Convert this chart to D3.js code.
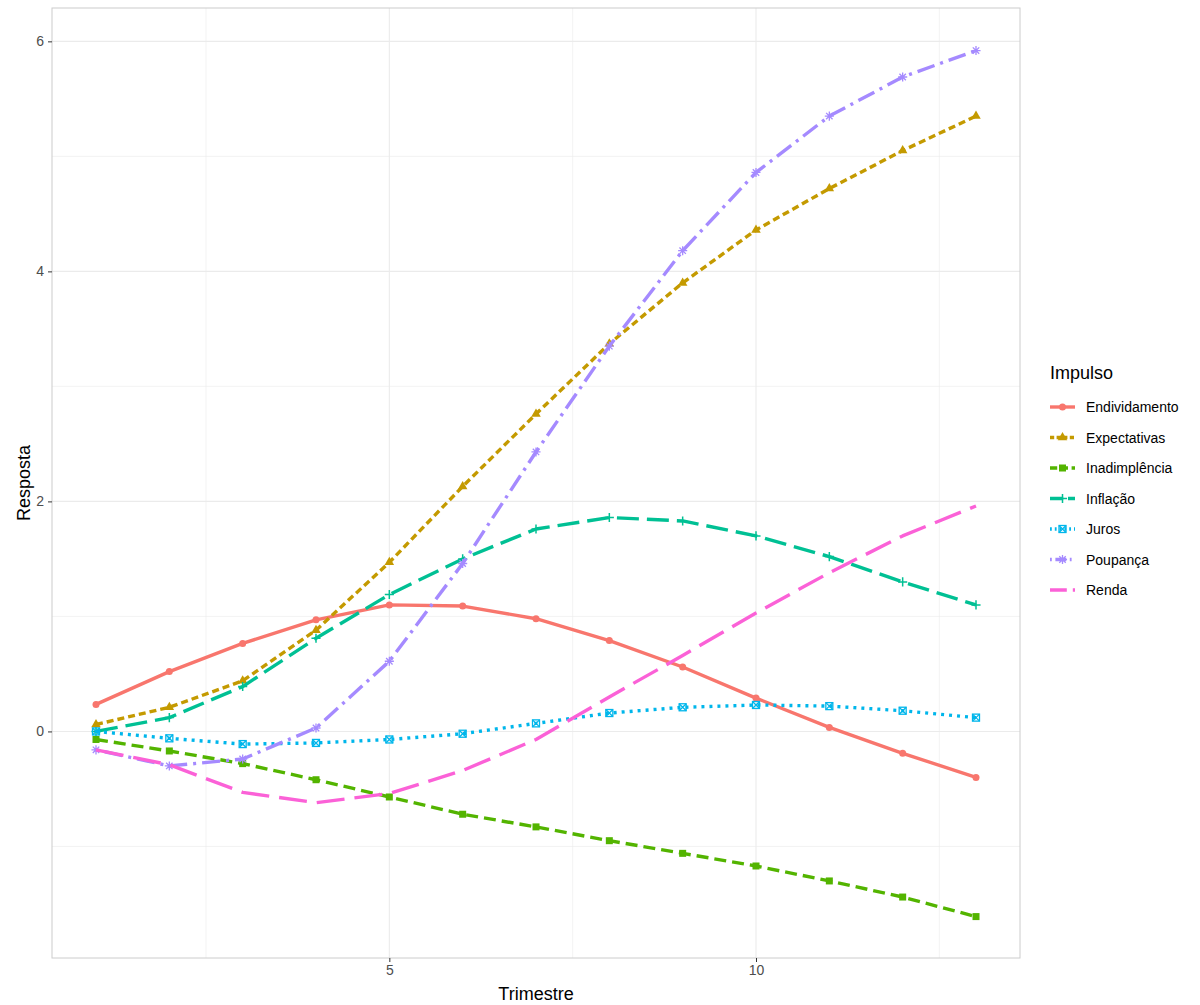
<!DOCTYPE html>
<html><head><meta charset="utf-8">
<script src="https://cdn.jsdelivr.net/npm/d3@7"></script>
<style>body{margin:0;background:#fff;font-family:"Liberation Sans",Arial,sans-serif}</style>
</head><body><svg id="c" width="1200" height="1005"></svg>
<script>
const trimestres = [1,2,3,4,5,6,7,8,9,10,11,12,13];
const endividamento = [0.235,0.52,0.765,0.97,1.10,1.09,0.98,0.79,0.56,0.29,0.035,-0.19,-0.40];
const expectativas = [0.06,0.21,0.44,0.88,1.47,2.13,2.76,3.37,3.90,4.36,4.72,5.05,5.35];
const inadimplencia = [-0.07,-0.17,-0.28,-0.42,-0.57,-0.72,-0.83,-0.95,-1.06,-1.17,-1.30,-1.44,-1.61];
const inflacao = [0.0,0.12,0.39,0.81,1.19,1.50,1.76,1.86,1.83,1.70,1.52,1.30,1.10];
const juros = [0.0,-0.06,-0.11,-0.10,-0.07,-0.02,0.07,0.16,0.21,0.23,0.22,0.18,0.12];
const poupanca = [-0.16,-0.30,-0.24,0.03,0.61,1.46,2.43,3.35,4.18,4.86,5.35,5.69,5.92];
const renda = [-0.16,-0.29,-0.53,-0.62,-0.54,-0.34,-0.07,0.30,0.66,1.03,1.38,1.70,1.96];
const yTicks = [0,2,4,6];
const xTicks = [5,10];

const series = [
  {name:"Endividamento", v:endividamento, color:"#F8766D", dash:null, shape:"circle"},
  {name:"Expectativas", v:expectativas, color:"#C49A00", dash:"7,4", shape:"triangle"},
  {name:"Inadimplência", v:inadimplencia, color:"#53B400", dash:"12,6", shape:"square"},
  {name:"Inflação", v:inflacao, color:"#00C094", dash:"22,8", shape:"plus"},
  {name:"Juros", v:juros, color:"#00B6EB", dash:"3,5", shape:"boxx"},
  {name:"Poupança", v:poupanca, color:"#A58AFF", dash:"3,6,18,6", shape:"asterisk"},
  {name:"Renda", v:renda, color:"#FB61D7", dash:"28,10", shape:null}
];

const svg = d3.select("#c");
const L = 52, R = 1020, T = 8, B = 958;
const x = d3.scaleLinear().domain([0.4,13.6]).range([L,R]);
const y = d3.scaleLinear().domain([-1.97,6.29]).range([B,T]);

const g = svg.append("g");
[-1,1,3,5].forEach(v=>g.append("line").attr("x1",L).attr("x2",R).attr("y1",y(v)).attr("y2",y(v)).attr("stroke","#ebebeb").attr("stroke-width",0.6));
[2.5,7.5,12.5].forEach(v=>g.append("line").attr("y1",T).attr("y2",B).attr("x1",x(v)).attr("x2",x(v)).attr("stroke","#ebebeb").attr("stroke-width",0.6));
yTicks.forEach(v=>g.append("line").attr("x1",L).attr("x2",R).attr("y1",y(v)).attr("y2",y(v)).attr("stroke","#ebebeb").attr("stroke-width",1.1));
xTicks.forEach(v=>g.append("line").attr("y1",T).attr("y2",B).attr("x1",x(v)).attr("x2",x(v)).attr("stroke","#ebebeb").attr("stroke-width",1.1));
g.append("rect").attr("x",L).attr("y",T).attr("width",R-L).attr("height",B-T).attr("fill","none").attr("stroke","#cccccc");

const ya = svg.append("g").attr("transform",`translate(${L},0)`).call(d3.axisLeft(y).tickValues(yTicks).tickSize(4).tickPadding(4));
const xa = svg.append("g").attr("transform",`translate(0,${B})`).call(d3.axisBottom(x).tickValues(xTicks).tickSize(4).tickPadding(3));
[ya,xa].forEach(a=>{a.select(".domain").remove();a.selectAll("line").attr("stroke","#333");a.selectAll("text").attr("fill","#4d4d4d").style("font-size","14px").style("font-family","Liberation Sans, Arial");});
svg.append("text").attr("x",(L+R)/2).attr("y",1000).attr("text-anchor","middle").style("font-size","18px").text("Trimestre");
svg.append("text").attr("transform",`translate(30,${(T+B)/2}) rotate(-90)`).attr("text-anchor","middle").style("font-size","18px").text("Resposta");

function shape(sel, s, cx, cy, r){
  const c = s.color;
  if(s.shape==="circle") sel.append("circle").attr("cx",cx).attr("cy",cy).attr("r",r).attr("fill",c);
  else if(s.shape==="triangle") sel.append("path").attr("d",d3.symbol(d3.symbolTriangle,r*r*3.2)()).attr("transform",`translate(${cx},${cy})`).attr("fill",c);
  else if(s.shape==="square") sel.append("rect").attr("x",cx-r).attr("y",cy-r).attr("width",2*r).attr("height",2*r).attr("fill",c);
  else if(s.shape==="plus") sel.append("path").attr("d",`M${cx-r*1.3},${cy}H${cx+r*1.3}M${cx},${cy-r*1.3}V${cy+r*1.3}`).attr("stroke",c).attr("stroke-width",1.5);
  else if(s.shape==="boxx"){
    sel.append("rect").attr("x",cx-r).attr("y",cy-r).attr("width",2*r).attr("height",2*r).attr("fill","none").attr("stroke",c).attr("stroke-width",1.3);
    sel.append("path").attr("d",`M${cx-r},${cy-r}L${cx+r},${cy+r}M${cx-r},${cy+r}L${cx+r},${cy-r}`).attr("stroke",c).attr("stroke-width",1.3);
  } else if(s.shape==="asterisk"){
    const k=r*1.3; let d="";
    [0,45,90,135].forEach(a=>{const dx=k*Math.cos(a*Math.PI/180),dy=k*Math.sin(a*Math.PI/180);d+=`M${cx-dx},${cy-dy}L${cx+dx},${cy+dy}`;});
    sel.append("path").attr("d",d).attr("stroke",c).attr("stroke-width",1.3);
  }
}

const line = d3.line().x((d,i)=>x(trimestres[i])).y(d=>y(d));
series.forEach(s=>{
  svg.append("path").attr("d",line(s.v)).attr("fill","none").attr("stroke",s.color).attr("stroke-width",3.4).attr("stroke-linejoin","round").attr("stroke-dasharray",s.dash);
  const pg = svg.append("g");
  s.v.forEach((v,i)=>shape(pg,s,x(trimestres[i]),y(v),3.5));
});

svg.append("text").attr("x",1050).attr("y",379).style("font-size","18px").text("Impulso");
series.forEach((s,i)=>{
  const yy = 407 + i*30.5;
  const lg = svg.append("g");
  lg.append("line").attr("x1",1050).attr("x2",1075).attr("y1",yy).attr("y2",yy).attr("stroke",s.color).attr("stroke-width",3.4).attr("stroke-dasharray",s.dash?s.dash.split(",").map(d=>d*0.6).join(","):null);
  shape(lg,s,1062.5,yy,3.5);
  lg.append("text").attr("x",1086).attr("y",yy+5).style("font-size","14px").text(s.name);
});
</script></body></html>
